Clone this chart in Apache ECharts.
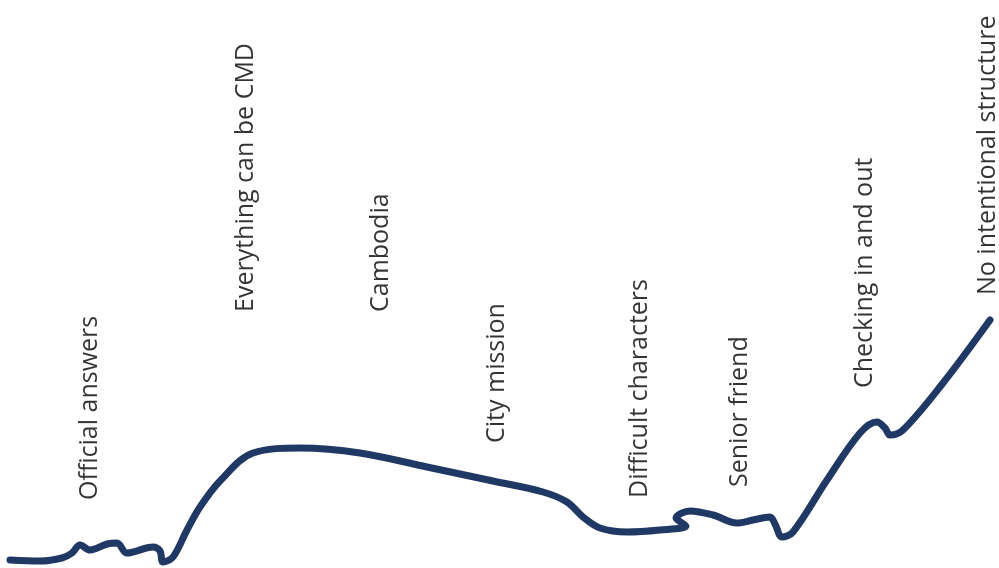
<!DOCTYPE html>
<html lang="en">

<head>
    <meta charset="UTF-8">
    <title>Journey</title>
    <style>
        * {
            margin: 0;
            padding: 0;
        }

        #main {
            width: 999px;
            height: 568px;
            background: #fff;
        }
    </style>
</head>

<body>
    <div id="main"></div>
</body>
<script src="https://cdn.jsdelivr.net/npm/echarts@6/dist/echarts.min.js"></script>
<script>
    // line: position along the journey and height
    let lineX = [10, 40, 62, 72, 80, 90, 107, 117, 127, 153, 160, 163, 173, 187, 200, 220, 253, 300, 360, 427,
        493, 543, 567, 583, 600, 627, 660, 686, 676, 690, 713, 737, 753, 770, 775, 782, 793, 827, 860, 877,
        885, 890, 903, 943, 990];
    let lineY = [8, 7, 10, 15, 23, 18, 24, 25, 15, 21, 17, 6, 11, 38, 61, 87, 115, 120, 115, 101,
        87, 76, 66, 51, 40, 36, 38, 42, 50, 57, 53, 45, 48, 51, 44, 31, 36, 88, 135, 146,
        140, 133, 138, 185, 248];

    // labels and where their text starts
    let labelNames = ['Official answers', 'Everything can be CMD', 'Cambodia', 'City mission',
        'Difficult characters', 'Senior friend', 'Checking in and out', 'No intentional structure'];
    let labelX = [90, 246, 381, 497, 640, 740, 865, 988];
    let labelY = [68, 256, 256, 125, 70, 81, 180, 273];

    let lineData = lineX.map((x, i) => [x, lineY[i]]);
    let labelData = labelNames.map((name, i) => [labelX[i], labelY[i], name]);

    let option = {
        animation: false,
        grid: { left: 0, right: 0, top: 0, bottom: 0 },
        xAxis: { type: 'value', min: 0, max: 999, show: false },
        yAxis: { type: 'value', min: 0, max: 568, show: false },
        series: [
            {
                type: 'line',
                data: lineData,
                smooth: 0.35,
                symbol: 'none',
                lineStyle: { color: '#203864', width: 7, cap: 'round', join: 'round' }
            },
            {
                type: 'scatter',
                data: labelData,
                symbolSize: 0,
                label: {
                    show: true,
                    position: 'inside',
                    rotate: 90,
                    align: 'left',
                    verticalAlign: 'middle',
                    color: '#000',
                    fontFamily: 'Open Sans',
                    fontSize: 25,
                    formatter: p => p.data[2]
                }
            }
        ]
    };
    initChart(option);

    function initChart(option) {
        let myCharts = echarts.init(document.getElementById('main'));
        myCharts.setOption(option);
        window.addEventListener('resize', () => {
            myCharts.resize();
        });
    }
</script>

</html>
